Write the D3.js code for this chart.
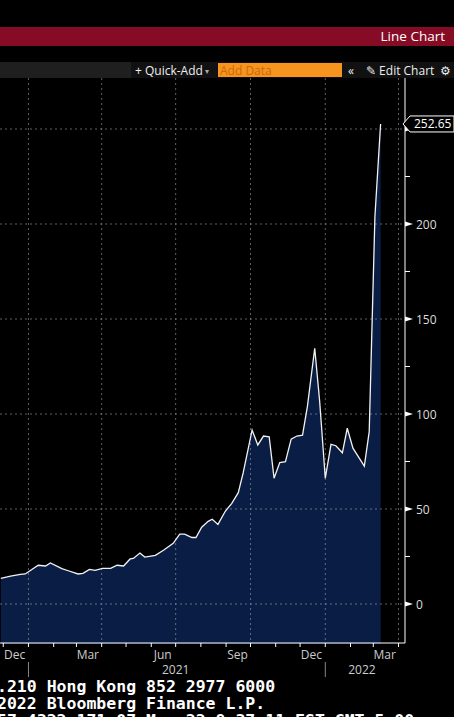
<!DOCTYPE html>
<html><head><meta charset="utf-8">
<script src="https://cdn.jsdelivr.net/npm/d3@7"></script>
<style>
body{margin:0;background:#000;overflow:hidden}
svg{display:block}
</style></head>
<body><svg></svg>
<script>
// weekly readings
const dates = ["2020-11-28","2020-12-10","2020-12-22","2020-12-28","2021-01-13","2021-01-22","2021-01-28",
  "2021-02-11","2021-02-19","2021-03-03","2021-03-09","2021-03-17","2021-03-24","2021-04-02","2021-04-12",
  "2021-04-20","2021-04-28","2021-05-06","2021-05-10","2021-05-18","2021-05-24","2021-06-06","2021-06-16",
  "2021-06-28","2021-07-06","2021-07-12","2021-07-21","2021-07-26","2021-08-02","2021-08-10","2021-08-15",
  "2021-08-22","2021-08-31","2021-09-08","2021-09-16","2021-09-22","2021-10-03","2021-10-10","2021-10-17",
  "2021-10-24","2021-10-30","2021-11-06","2021-11-13","2021-11-20","2021-11-27","2021-12-04","2021-12-10",
  "2021-12-19","2021-12-25","2022-01-01","2022-01-08","2022-01-14","2022-01-22","2022-01-28","2022-02-04",
  "2022-02-18","2022-02-24","2022-03-03","2022-03-10"];
const values = [13.5,14.7,15.6,15.8,20.4,20,21.6,18.6,17.5,15.8,16.1,18.2,17.7,18.8,18.8,20.4,20,23.7,24,
  26.8,24.7,25.6,28.3,31.9,36.8,36.8,35,35,40.4,43.5,44.6,41.9,48.8,53,58.6,69,91.6,83.7,88.4,88,66.2,
  74.4,74.9,86.8,88.4,88.9,104,134.6,107,66.2,84,83.3,79.6,92.5,82,72.6,90.7,203.8,252.65];
const yTicks = [0,50,100,150,200,250];
const monthLabels = ["Dec","Mar","Jun","Sep","Dec","Mar"];
const years = ["2021","2022"];
const lastLabel = "252.65";
const footer = [".210 Hong Kong 852 2977 6000"," 2022 Bloomberg Finance L.P.","57 4322 171 07-Mar-22  8:37:11 EST  GMT-5:00"];

const W = 454, H = 717;
const svg = d3.select("svg").attr("width",W).attr("height",H);
const parse = d3.timeParse("%Y-%m-%d");
const data = dates.map((d,i)=>({d:parse(d), v:values[i]}));

const plotL = 0, plotR = 405, plotT = 78, plotB = 643;
const x = d3.scaleTime().domain([parse("2020-11-27"), parse("2022-04-09")]).range([plotL, plotR]);
const y = d3.scaleLinear().domain([0,250]).range([604,129]);

// header
svg.append("rect").attr("x",0).attr("y",27).attr("width",W).attr("height",19).attr("fill","#860b25");
svg.append("text").attr("x",445).attr("y",41).attr("text-anchor","end").attr("fill","#fff")
  .attr("font-family","Open Sans").attr("font-size",13.5).text("Line Chart");
svg.append("rect").attr("x",0).attr("y",62).attr("width",W).attr("height",16).attr("fill","#111");
svg.append("rect").attr("x",0).attr("y",62).attr("width",131).attr("height",16).attr("fill","#1f1f1f");
const tb = svg.append("g").attr("font-family","Open Sans").attr("font-size",12).attr("fill","#eee");
tb.append("text").attr("x",135).attr("y",74.5).text("+ Quick-Add");
tb.append("text").attr("x",205).attr("y",74).attr("font-size",8).attr("fill","#aaa").text("▾");
svg.append("rect").attr("x",218).attr("y",63).attr("width",124).attr("height",14).attr("fill","#f7941d");
svg.append("text").attr("x",220).attr("y",74.5).attr("font-family","Open Sans").attr("font-size",12)
  .attr("fill","#c86a10").text("Add Data");
tb.append("text").attr("x",348).attr("y",74.5).text("«");
tb.append("text").attr("x",366).attr("y",74.5).text("✎ Edit Chart");
tb.append("text").attr("x",440).attr("y",74.5).text("⚙");

// area + line
svg.append("path").datum(data).attr("fill","#0a1e45")
  .attr("d", d3.area().x(d=>x(d.d)).y0(y(-21)).y1(d=>y(d.v)));

// grid
const grid = svg.append("g").attr("stroke","#9a9a9a").attr("stroke-width",0.8).attr("stroke-dasharray","2,3").attr("opacity",0.8);
grid.selectAll("line.h").data(yTicks).join("line").attr("x1",plotL).attr("x2",plotR)
  .attr("y1",d=>y(d)).attr("y2",d=>y(d));
const quarters = d3.timeMonth.every(3).range(parse("2021-01-01"), parse("2022-04-02"));
grid.selectAll("line.v").data(quarters).join("line").attr("y1",plotT).attr("y2",plotB)
  .attr("x1",d=>x(d)).attr("x2",d=>x(d));

svg.append("path").datum(data).attr("fill","none").attr("stroke","#f2f2f2").attr("stroke-width",1.3)
  .attr("d", d3.line().x(d=>x(d.d)).y(d=>y(d.v)));

// right axis
svg.append("line").attr("x1",plotR).attr("x2",plotR).attr("y1",plotT).attr("y2",plotB).attr("stroke","#fff");
const ya = svg.append("g").attr("transform",`translate(${plotR},0)`);
ya.selectAll("line.m").data(d3.range(25,250,50)).join("line").attr("x1",0).attr("x2",5)
  .attr("y1",d=>y(d)).attr("y2",d=>y(d)).attr("stroke","#fff");
ya.selectAll("path.t").data(yTicks).join("path").attr("fill","#fff")
  .attr("d",d=>`M0,${y(d)-2.5}L8,${y(d)}L0,${y(d)+2.5}Z`);
ya.selectAll("text").data(yTicks.slice(0,5)).join("text").attr("x",11).attr("y",d=>y(d)+4.5)
  .attr("fill","#ddd").attr("font-family","Open Sans").attr("font-size",12).text(d=>d);
ya.append("line").attr("x1",0).attr("x2",6).attr("y1",y(250)).attr("y2",y(250)).attr("stroke","#fff");
// last value label
const ly = y(values[values.length-1]);
svg.append("path").attr("d",`M403,${ly}L410,${ly-8}H454V${ly+8}H410Z`).attr("fill","#000").attr("stroke","#fff");
svg.append("text").attr("x",414).attr("y",ly+4.5).attr("fill","#fff").attr("font-family","Open Sans")
  .attr("font-size",12).text(lastLabel);

// bottom axis
svg.append("line").attr("x1",plotL).attr("x2",plotR).attr("y1",plotB).attr("y2",plotB).attr("stroke","#fff");
const months = d3.timeMonth.range(parse("2020-12-01"), parse("2022-04-02"));
svg.selectAll("line.mt").data(months).join("line").attr("x1",d=>x(d)).attr("x2",d=>x(d))
  .attr("y1",plotB).attr("y2",plotB+4).attr("stroke","#fff");
const labMonths = ["2020-12-15","2021-03-15","2021-06-15","2021-09-15","2021-12-15","2022-03-15"].map(parse);
svg.selectAll("text.ml").data(labMonths).join("text").attr("x",d=>x(d)).attr("y",659)
  .attr("text-anchor","middle").attr("fill","#ccc").attr("font-family","Open Sans").attr("font-size",12)
  .text((d,i)=>monthLabels[i]);
svg.selectAll("line.yr").data(["2021-01-01","2022-01-01"].map(parse)).join("line")
  .attr("x1",d=>x(d)).attr("x2",d=>x(d)).attr("y1",662).attr("y2",677).attr("stroke","#888");
svg.selectAll("text.yl").data(["2021-07-01","2022-02-15"].map(parse)).join("text").attr("x",d=>x(d)).attr("y",674)
  .attr("text-anchor","middle").attr("fill","#ccc").attr("font-family","Open Sans").attr("font-size",12)
  .text((d,i)=>years[i]);

// footer
svg.selectAll("text.ft").data(footer).join("text").attr("x",-3).attr("y",(d,i)=>692+i*17)
  .attr("fill","#fff").attr("font-family","DejaVu Sans Mono").attr("font-size",16.5).attr("font-weight","bold")
  .text(d=>d);
</script></body></html>
